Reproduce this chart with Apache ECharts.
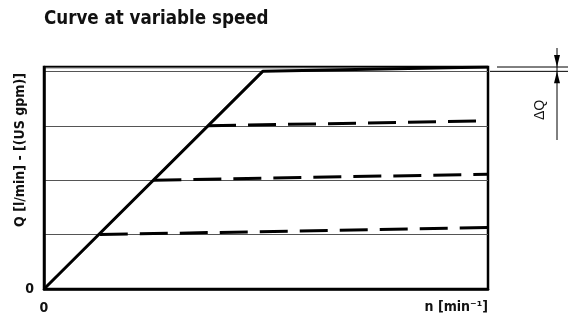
<!DOCTYPE html>
<html>
<head>
<meta charset="utf-8">
<script src="https://cdn.jsdelivr.net/npm/echarts@6/dist/echarts.min.js"></script>
<style>
  html, body { margin: 0; padding: 0; background: #fff; }
  #chart { width: 568px; height: 322px; }
</style>
</head>
<body>
<div id="chart"></div>
<script>
// Flow Q against speed n, in relative units (one grid step per unit)
const speedMax = 8.12;
const flowMax = 4.08;

// Full-speed curve: rises linearly, then stays almost flat
const fullSpeed = [0, 4.0, 8.12];
const fullFlow = [0, 4.0, 4.08];

// Reduced-speed curves: each starts on the rising line and creeps up slightly
const partStartSpeed = [1.02, 2.0, 3.0];
const partStartFlow = [1.0, 2.0, 3.0];
const partEndFlow = [1.13, 2.11, 3.09];

const titleText = 'Curve at variable speed';
const xTitle = 'n [min⁻¹]';
const yTitle = 'Q [l/min] - [(US gpm)]';
const deltaLabel = 'ΔQ';

const condensed = '"Liberation Sans Narrow", "DejaVu Sans Condensed", "Arial Narrow", sans-serif';

const series = [{
  type: 'line',
  data: fullSpeed.map((s, i) => [s, fullFlow[i]]),
  symbol: 'none',
  lineStyle: { color: '#000', width: 3 },
  z: 5
}];
partStartSpeed.forEach((s, i) => {
  series.push({
    type: 'line',
    data: [[s, partStartFlow[i]], [speedMax, partEndFlow[i]]],
    symbol: 'none',
    lineStyle: { color: '#000', width: 3, type: [28, 12] },
    z: 4
  });
});

const chart = echarts.init(document.getElementById('chart'), null, { renderer: 'canvas' });
chart.setOption({
  animation: false,
  backgroundColor: '#fff',
  title: {
    text: titleText,
    left: 44, top: 10, padding: 0,
    textStyle: { fontFamily: condensed, fontWeight: 'bold', fontSize: 18.6, color: '#111' }
  },
  grid: { left: 44, right: 80, top: 67, bottom: 33, show: true, borderColor: '#000', borderWidth: 2.5 },
  xAxis: {
    type: 'value', min: 0, max: speedMax, interval: 1,
    axisLine: { show: true, lineStyle: { color: '#000', width: 2.5 } },
    axisTick: { show: false },
    splitLine: { show: false },
    axisLabel: {
      margin: 12,
      formatter: v => (v === 0 ? '0' : ''),
      fontFamily: condensed, fontWeight: 'bold', fontSize: 14, color: '#111'
    },
    name: xTitle,
    nameLocation: 'end',
    nameGap: 0,
    nameTextStyle: {
      align: 'right', verticalAlign: 'top', padding: [11, 0, 0, 0],
      fontFamily: condensed, fontWeight: 'bold', fontSize: 14, color: '#111'
    }
  },
  yAxis: {
    type: 'value', min: 0, max: flowMax, interval: 1,
    axisLine: { show: true, lineStyle: { color: '#000', width: 2.5 } },
    axisTick: { show: false },
    splitLine: { show: true, lineStyle: { color: '#555', width: 1 } },
    axisLabel: {
      margin: 10,
      formatter: v => (v === 0 ? '0' : ''),
      fontFamily: condensed, fontWeight: 'bold', fontSize: 14, color: '#111'
    }
  },
  series: series
});

// Axis title and the ΔQ dimension mark on the right, placed from the axis scale
const yTop = chart.convertToPixel({ yAxisIndex: 0 }, flowMax);
const yKnee = chart.convertToPixel({ yAxisIndex: 0 }, fullFlow[1]);
const xRight = chart.convertToPixel({ xAxisIndex: 0 }, speedMax);
const arrowX = 557;
const thin = { stroke: '#000', lineWidth: 1 };

chart.setOption({
  graphic: [
    {
      type: 'text', x: 20, y: 150, rotation: Math.PI / 2,
      style: {
        text: yTitle, align: 'center', verticalAlign: 'middle',
        font: 'bold 14px ' + condensed, fill: '#111'
      }
    },
    { type: 'line', shape: { x1: xRight + 9, y1: yTop, x2: 568, y2: yTop }, style: thin },
    { type: 'line', shape: { x1: xRight + 2, y1: yKnee, x2: 568, y2: yKnee }, style: thin },
    { type: 'line', shape: { x1: arrowX, y1: 48, x2: arrowX, y2: 140 }, style: thin },
    {
      type: 'polygon',
      shape: { points: [[arrowX - 3, yTop - 12], [arrowX + 3, yTop - 12], [arrowX, yTop]] },
      style: { fill: '#000' }
    },
    {
      type: 'polygon',
      shape: { points: [[arrowX - 3, yKnee + 12], [arrowX + 3, yKnee + 12], [arrowX, yKnee]] },
      style: { fill: '#000' }
    },
    {
      type: 'text', x: 540, y: 110, rotation: Math.PI / 2,
      style: {
        text: deltaLabel, align: 'center', verticalAlign: 'middle',
        font: '14px "Liberation Sans", Arial, sans-serif', fill: '#111'
      }
    }
  ]
});
</script>
</body>
</html>
